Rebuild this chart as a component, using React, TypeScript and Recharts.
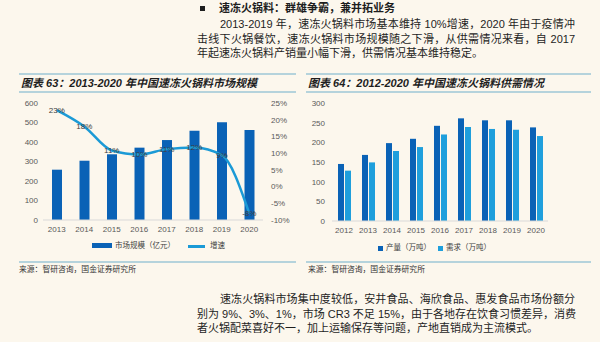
import React from "react";
import {
  ComposedChart,
  BarChart,
  Bar,
  Line,
  XAxis,
  YAxis,
  LabelList,
} from "recharts";

const sizeYears = ["2013", "2014", "2015", "2016", "2017", "2018", "2019", "2020"];
const marketSize = [258, 304, 337, 371, 410, 458, 501, 462];
const growthRate = [22.9, 18.0, 10.8, 9.6, 11.2, 11.7, 9.4, -8.0];
const sizeTicks = [0, 100, 200, 300, 400, 500, 600];
const growthTicks = [-10, -5, 0, 5, 10, 15, 20, 25];

const supplyYears = ["2012", "2013", "2014", "2015", "2016", "2017", "2018", "2019", "2020"];
const production = [145, 168, 198, 209, 242, 261, 256, 256, 238];
const demand = [128, 149, 178, 188, 220, 239, 234, 232, 216];
const supplyTicks = [0, 50, 100, 150, 200, 250, 300];

const BG = "#fcf7ed";
const DARK_BLUE = "#0a62b6";
const LIGHT_BLUE = "#1f9fdc";
const LINE_BLUE = "#1b9ad6";
const RULE = "#b5d3dc";
const TICK = { fontSize: 8, fill: "#595959", fontFamily: "Liberation Sans, Arial, sans-serif" };
const CJK = "'Liberation Sans', 'Noto Sans CJK SC', sans-serif";

const sizeData = sizeYears.map((year, i) => ({
  year,
  size: marketSize[i],
  growth: growthRate[i],
}));

const supplyData = supplyYears.map((year, i) => ({
  year,
  production: production[i],
  demand: demand[i],
}));

const renderGrowthLabel = (props: any) => {
  const { x, y, value } = props;
  return (
    <text x={x} y={y} dy={3} textAnchor="middle" fontSize={8} fill="#404040" fontFamily="Liberation Sans, Arial">
      {`${Math.round(value)}%`}
    </text>
  );
};

function TextLine({
  x,
  y,
  width,
  children,
  justify = true,
  size = 11,
  weight = 400,
  style,
}: {
  x: number;
  y: number;
  width?: number;
  children: React.ReactNode;
  justify?: boolean;
  size?: number;
  weight?: number;
  style?: React.CSSProperties;
}) {
  return (
    <div
      style={{
        position: "absolute",
        left: x,
        top: y - 7,
        width,
        height: 14,
        lineHeight: "14px",
        fontSize: size,
        fontWeight: weight,
        whiteSpace: "nowrap",
        textAlign: justify ? "justify" : "left",
        textAlignLast: justify ? "justify" : "left",
        color: "#1e1e1e",
        ...style,
      }}
    >
      {children}
    </div>
  );
}

function Rule({ x, y, w }: { x: number; y: number; w: number }) {
  return <div style={{ position: "absolute", left: x, top: y - 1, width: w, height: 2, background: RULE }} />;
}

export default function App() {
  return (
    <div
      style={{
        position: "fixed",
        left: 0,
        top: 0,
        width: 600,
        height: 342,
        background: BG,
        overflow: "hidden",
        fontFamily: CJK,
      }}
    >
      {/* section heading + intro paragraph */}
      <div style={{ position: "absolute", left: 200, top: 6, width: 5, height: 5, background: "#1e1e1e" }} />
      <TextLine x={219} y={8} justify={false} weight={700}>
        速冻火锅料：群雄争霸，兼并拓业务
      </TextLine>
      <TextLine x={220} y={24} width={355}>
        2013-2019 年，速冻火锅料市场基本维持 10%增速，2020 年由于疫情冲
      </TextLine>
      <TextLine x={197} y={38.5} width={378}>
        击线下火锅餐饮，速冻火锅料市场规模随之下滑，从供需情况来看，自 2017
      </TextLine>
      <TextLine x={197} y={53} justify={false}>
        年起速冻火锅料产销量小幅下滑，供需情况基本维持稳定。
      </TextLine>

      {/* left chart frame */}
      <Rule x={19} y={74} w={277} />
      <TextLine x={21} y={82.5} justify={false} weight={700} style={{ fontStyle: "italic" }}>
        图表 63：2013-2020 年中国速冻火锅料市场规模
      </TextLine>
      <Rule x={19} y={92} w={277} />

      <div style={{ position: "absolute", left: 0, top: 95 }}>
        <ComposedChart width={300} height={146} data={sizeData} margin={{ top: 8, right: 0, left: 0, bottom: 0 }}>
          <XAxis
            dataKey="year"
            tick={TICK}
            tickLine={false}
            tickSize={4}
            axisLine={{ stroke: "#d9d9d9" }}
            height={21}
            interval={0}
          />
          <YAxis
            yAxisId="left"
            domain={[0, 600]}
            ticks={sizeTicks}
            tick={TICK}
            tickLine={false}
            axisLine={false}
            tickSize={3}
            width={43}
            interval={0}
          />
          <YAxis
            yAxisId="right"
            orientation="right"
            domain={[-10, 25]}
            ticks={growthTicks}
            tickFormatter={(v) => `${v}%`}
            tick={TICK}
            tickLine={false}
            axisLine={false}
            width={37}
            interval={0}
          />
          <Bar yAxisId="left" dataKey="size" fill={DARK_BLUE} barSize={10} isAnimationActive={false} />
          <Line
            yAxisId="right"
            dataKey="growth"
            type="monotone"
            stroke={LINE_BLUE}
            strokeWidth={2.5}
            dot={false}
            isAnimationActive={false}
          >
            <LabelList dataKey="growth" content={renderGrowthLabel} />
          </Line>
        </ComposedChart>
      </div>

      {/* left legend */}
      <div style={{ position: "absolute", left: 92, top: 243, width: 20, height: 5, background: DARK_BLUE }} />
      <TextLine x={115} y={246} justify={false} size={7.5} style={{ color: "#404040" }}>
        市场规模（亿元）
      </TextLine>
      <div style={{ position: "absolute", left: 188, top: 245, width: 17, height: 2.5, background: LINE_BLUE }} />
      <TextLine x={210} y={246} justify={false} size={7.5} style={{ color: "#404040" }}>
        增速
      </TextLine>

      <Rule x={19} y={262} w={277} />
      <TextLine x={19} y={270} justify={false} size={7.8} style={{ color: "#333" }}>
        来源：智研咨询，国金证券研究所
      </TextLine>

      {/* right chart frame */}
      <Rule x={306} y={74} w={285} />
      <TextLine x={308} y={82.5} justify={false} weight={700} style={{ fontStyle: "italic" }}>
        图表 64：2012-2020 年中国速冻火锅料供需情况
      </TextLine>
      <Rule x={306} y={92} w={285} />

      <div style={{ position: "absolute", left: 300, top: 95 }}>
        <BarChart
          width={300}
          height={147}
          data={supplyData}
          margin={{ top: 8, right: 52, left: 0, bottom: 0 }}
          barGap={1}
        >
          <XAxis
            dataKey="year"
            tick={TICK}
            tickLine={false}
            tickSize={4}
            axisLine={{ stroke: "#d9d9d9" }}
            height={21}
            interval={0}
          />
          <YAxis
            domain={[0, 300]}
            ticks={supplyTicks}
            tick={TICK}
            tickLine={false}
            axisLine={false}
            tickSize={5}
            width={32}
            interval={0}
          />
          <Bar dataKey="production" fill={DARK_BLUE} barSize={6} isAnimationActive={false} />
          <Bar dataKey="demand" fill={LIGHT_BLUE} barSize={6} isAnimationActive={false} />
        </BarChart>
      </div>

      {/* right legend */}
      <div style={{ position: "absolute", left: 378, top: 245.5, width: 5, height: 5, background: DARK_BLUE }} />
      <TextLine x={386} y={248} justify={false} size={7.5} style={{ color: "#404040" }}>
        产量（万吨）
      </TextLine>
      <div style={{ position: "absolute", left: 438, top: 245.5, width: 5, height: 5, background: LIGHT_BLUE }} />
      <TextLine x={446} y={248} justify={false} size={7.5} style={{ color: "#404040" }}>
        需求（万吨）
      </TextLine>

      <Rule x={306} y={262} w={285} />
      <TextLine x={308} y={270} justify={false} size={7.8} style={{ color: "#333" }}>
        来源：智研咨询，国金证券研究所
      </TextLine>

      {/* closing paragraph */}
      <TextLine x={220} y={299} width={355}>
        速冻火锅料市场集中度较低，安井食品、海欣食品、惠发食品市场份额分
      </TextLine>
      <TextLine x={197} y={313.5} width={378}>
        别为 9%、3%、1%，市场 CR3 不足 15%，由于各地存在饮食习惯差异，消费
      </TextLine>
      <TextLine x={197} y={328} justify={false}>
        者火锅配菜喜好不一，加上运输保存等问题，产地直销成为主流模式。
      </TextLine>
    </div>
  );
}
